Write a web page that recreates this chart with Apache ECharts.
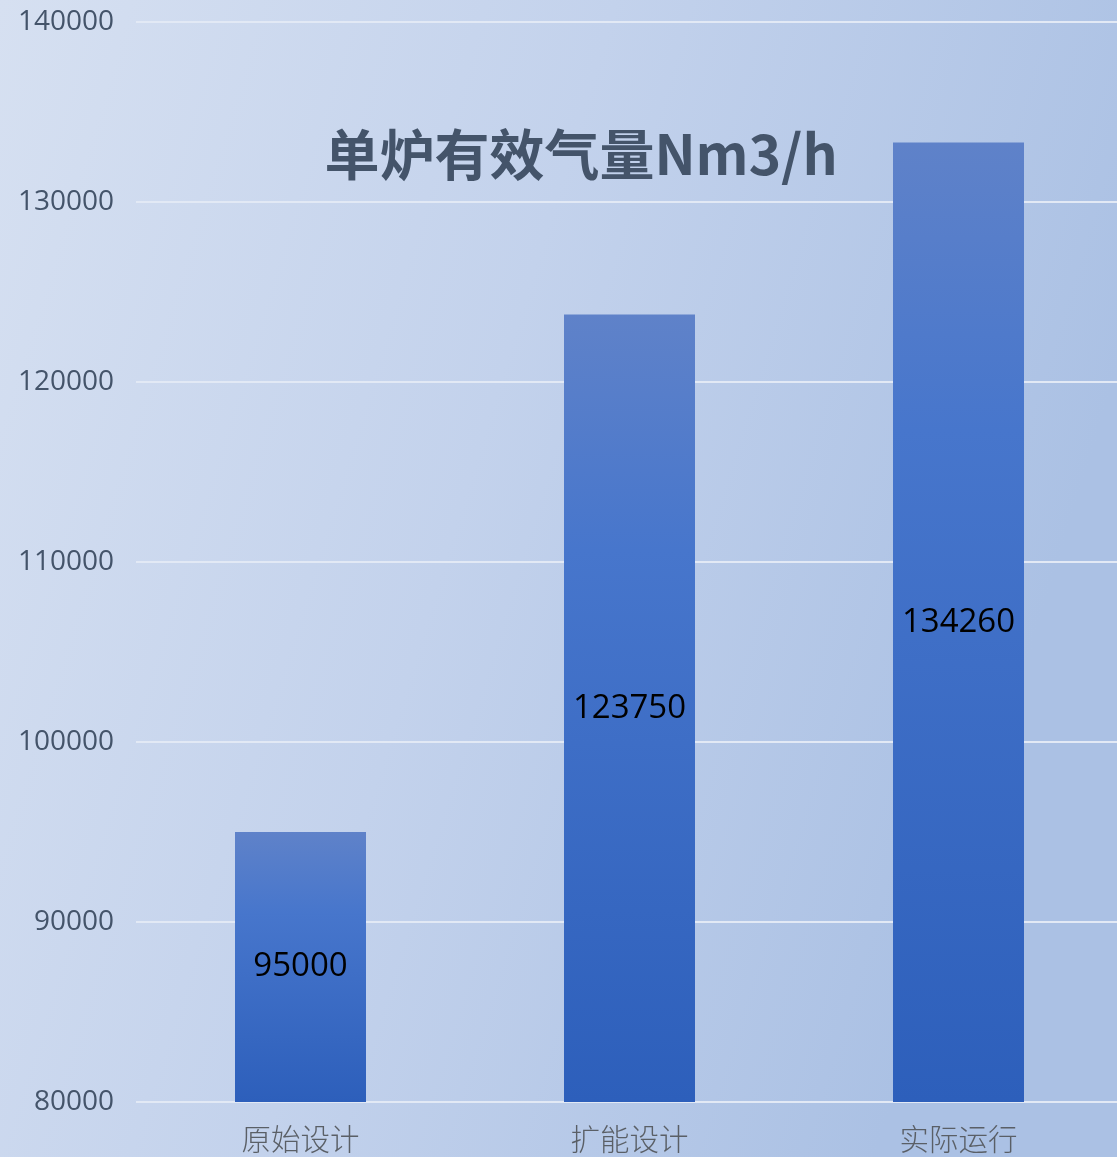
<!DOCTYPE html>
<html><head><meta charset="utf-8">
<style>html,body{margin:0;padding:0;width:1117px;height:1157px;overflow:hidden;}
#c{width:1125px;height:1157px;}</style>
<script src="https://cdn.jsdelivr.net/npm/echarts@6/dist/echarts.min.js"></script>
</head><body><div id="c"></div>
<script>
const categories = ['原始设计', '扩能设计', '实际运行'];
const values = [95000, 123750, 133300];
const labelTexts = ['95000', '123750', '134260'];
const titleText = '单炉有效气量Nm3/h';

const chart = echarts.init(document.getElementById('c'));
chart.setOption({
  backgroundColor: new echarts.graphic.LinearGradient(0, 0, 1, 0.3, [
    {offset: 0, color: '#d6e0f1'},
    {offset: 0.5, color: '#c3d2ec'},
    {offset: 1, color: '#abc1e4'}
  ]),
  title: {
    text: titleText, left: 576, top: 122, textAlign: 'center',
    textStyle: {fontFamily: '"Noto Sans CJK SC"', fontWeight: 'bold', fontSize: 55, color: '#44546a'}
  },
  grid: {left: 136, right: 2, top: 22, bottom: 55, containLabel: false},
  xAxis: {
    type: 'category', data: categories,
    axisLine: {show: false}, axisTick: {show: false},
    axisLabel: {fontFamily: '"Noto Sans CJK SC"', fontSize: 29.5, color: '#5a5f66', margin: 22, fontWeight: 300}
  },
  yAxis: {
    type: 'value', min: 80000, max: 140000, interval: 10000,
    axisLine: {show: false}, axisTick: {show: false},
    axisLabel: {fontFamily: '"Open Sans"', fontSize: 28, color: '#44546a', margin: 22, formatter: v => String(v)},
    splitLine: {lineStyle: {color: '#e2e9f5', width: 2}}
  },
  series: [{
    type: 'bar', data: values, barWidth: 131,
    itemStyle: {color: new echarts.graphic.LinearGradient(0, 0, 0, 1, [
      {offset: 0, color: '#5f82c9'},
      {offset: 0.3, color: '#4776cc'},
      {offset: 1, color: '#2d5fbb'}
    ])},
    label: {
      show: true, position: 'inside', color: '#000',
      fontFamily: '"Open Sans"', fontSize: 33,
      formatter: p => labelTexts[p.dataIndex]
    }
  }]
});
</script></body></html>
